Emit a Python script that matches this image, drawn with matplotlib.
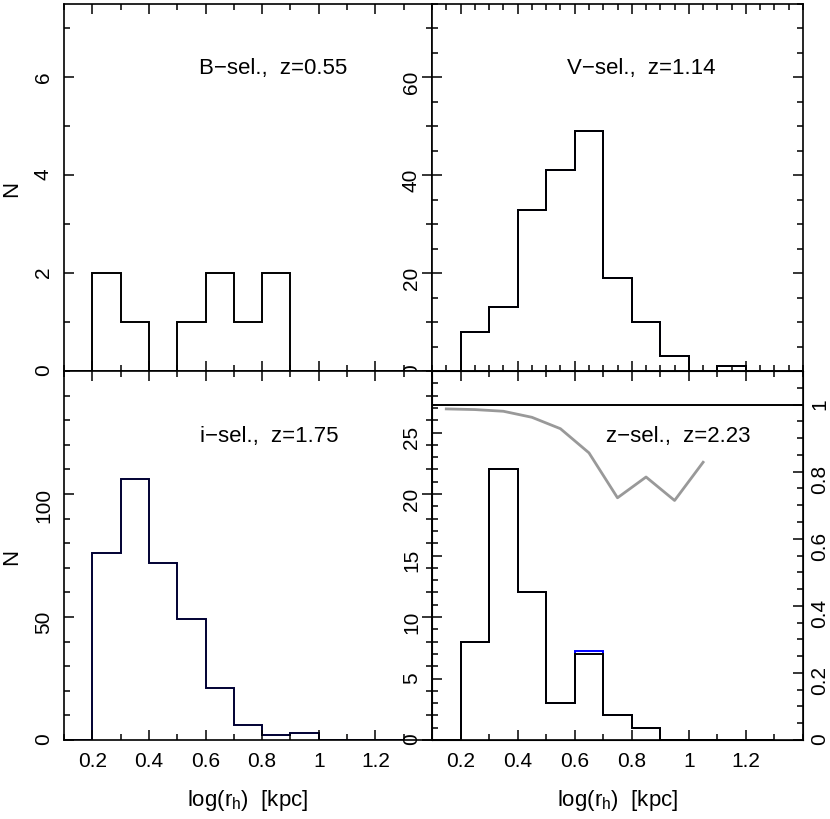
# size distributions of the four dropout samples
import numpy as np
import matplotlib
matplotlib.use('Agg')
from matplotlib import pyplot as plt
from matplotlib.ticker import MultipleLocator, FixedLocator

plt.rcParams['font.family'] = ['Liberation Sans', 'DejaVu Sans']
plt.rcParams['font.size'] = 15

# bin edges in log(r_h)
edges = np.round(np.arange(0.1, 1.31, 0.1), 2)

# counts per bin (black) and the weighted version (blue)
n_B = [0, 2, 1, 0, 1, 2, 1, 2, 0, 0, 0, 0]
n_V = [0, 8, 13, 33, 41, 49, 19, 10, 3, 0, 1, 0]
n_i = [0, 76, 106, 72, 49, 21, 6, 2, 3, 0, 0, 0]
n_z = [0, 8, 22, 12, 3, 7, 2, 1, 0, 0, 0, 0]
w_V = [0, 8, 13, 33, 41, 49, 19, 10, 3, 0, 1.1, 0]
w_z = [0, 8, 22, 12.04, 3, 7.2, 2, 1, 0, 0, 0, 0]

# completeness of the z-selected sample
comp_x = [0.15, 0.25, 0.35, 0.45, 0.55, 0.65, 0.75, 0.85, 0.95, 1.05]
comp_y = [0.987, 0.985, 0.980, 0.962, 0.928, 0.856, 0.722, 0.784, 0.714, 0.828]

labels = ['B\u2212sel.,  z=0.55', 'V\u2212sel.,  z=1.14',
          'i\u2212sel.,  z=1.75', 'z\u2212sel.,  z=2.23']
xticks = [0.2, 0.4, 0.6, 0.8, 1.0, 1.2]

W, H = 830, 820
def box(x0, y0, x1, y1):
    return [x0 / W, 1 - y1 / H, (x1 - x0) / W, (y1 - y0) / H]

fig = plt.figure(figsize=(8.3, 8.2), dpi=100)
ax1 = fig.add_axes(box(64, 5, 432, 372))
ax2 = fig.add_axes(box(432, 5, 803, 372))
ax3 = fig.add_axes(box(64, 372, 432, 741))
ax4 = fig.add_axes(box(432, 372, 803, 741))

fmt = lambda v, p: '%g' % round(v, 2)


def setup(ax, ytop, yticks, ymin, xmin, right=True):
    ax.set_xlim(0.1, 1.4)
    ax.set_ylim(0, ytop)
    ax.xaxis.set_major_locator(FixedLocator(xticks))
    ax.xaxis.set_minor_locator(MultipleLocator(xmin))
    ax.yaxis.set_major_locator(FixedLocator(yticks))
    ax.yaxis.set_minor_locator(MultipleLocator(ymin))
    ax.xaxis.set_major_formatter(fmt)
    ax.yaxis.set_major_formatter(fmt)
    ax.tick_params(which='both', direction='in', top=True, right=right,
                   width=1.1, pad=8, labelsize=15)
    ax.tick_params(which='major', length=7.5)
    ax.tick_params(which='minor', length=4)
    ax.tick_params(axis='y', labelrotation=90)
    for s in ax.spines.values():
        s.set_linewidth(1.2)


setup(ax1, 7.5, [0, 2, 4, 6], 1, 0.1)
setup(ax2, 75, [0, 20, 40, 60], 5, 0.05)
setup(ax3, 150, [0, 50, 100], 10, 0.1)
setup(ax4, 30, [0, 5, 10, 15, 20, 25], 1, 0.1, right=False)

ax1.stairs(n_B, edges, color='black', lw=1.4)
ax2.stairs(w_V, edges, color='blue', lw=1.4)
ax2.stairs(n_V, edges, color='black', lw=1.4)
ax3.stairs(n_i, edges, color='#000033', lw=1.4)
ax4.stairs(w_z, edges, color='blue', lw=1.4)
ax4.stairs(n_z, edges, color='black', lw=1.4)

ax4r = ax4.twinx()
ax4r.set_ylim(0, 1.1)
ax4r.yaxis.set_major_locator(FixedLocator([0, 0.2, 0.4, 0.6, 0.8, 1.0]))
ax4r.yaxis.set_minor_locator(MultipleLocator(0.05))
ax4r.yaxis.set_major_formatter(fmt)
ax4r.tick_params(which='both', direction='in', width=1.1, pad=5,
                 labelsize=15, labelrotation=90)
ax4r.tick_params(which='major', length=7.5)
ax4r.tick_params(which='minor', length=4)
ax4r.plot(comp_x, comp_y, color='#999999', lw=2)
ax4r.axhline(1.0, color='black', lw=1.4)

for ax, lab, (tx, ty) in zip([ax1, ax2, ax3, ax4], labels,
                             [(0.569, 0.828), (0.565, 0.828),
                              (0.557, 0.825), (0.664, 0.825)]):
    ax.text(tx, ty, lab, transform=ax.transAxes, ha='center', va='center',
            fontsize=16)

# axis titles
for ax in [ax1, ax3]:
    ax.text(-0.141, 0.5, 'N', transform=ax.transAxes, rotation=90,
            ha='center', va='center', fontsize=16)
for ax in [ax3, ax4]:
    ax.text(0.5, -0.16, 'log(r$_\\mathregular{h}$)  [kpc]',
            transform=ax.transAxes, ha='center', va='center', fontsize=16)

plt.savefig('out.png', dpi=100)
